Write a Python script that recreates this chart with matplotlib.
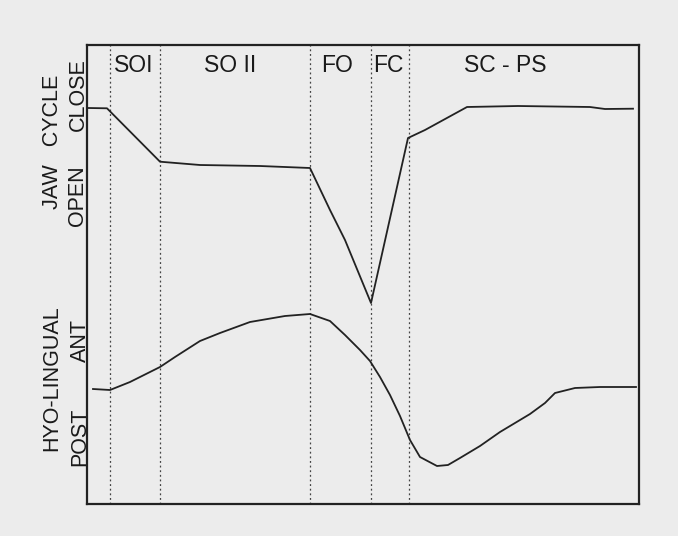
import matplotlib
matplotlib.use("Agg")
import matplotlib.pyplot as plt

# Time axis (arbitrary units) and traces
jaw_t = [1, 20, 73, 113, 173, 223, 243, 258, 284, 321, 338, 380, 431, 503, 518, 546]
jaw_y = [396, 395.7, 342.3, 339, 338, 336, 294, 264, 201, 366, 374, 397, 398, 397, 395, 395.3]

hyo_t = [6, 23, 43, 73, 88, 113, 133, 163, 198, 223, 243, 258, 273, 283, 293, 303, 313, 323,
         333, 350, 361, 373, 393, 413, 428, 443, 458, 468, 488, 513, 549]
hyo_y = [115, 114, 122, 137, 147, 163, 171, 182, 188, 190, 183, 169, 154, 143, 127, 109, 88, 64,
         47, 38, 39, 46, 58, 72, 81, 90, 101, 111, 116, 117, 117]

phase_bounds = [22.5, 73, 223, 284, 321.5]
phase_labels = ["SOI", "SO II", "FO", "FC", "SC - PS"]
phase_label_t = [47, 143, 250, 301, 418]

FONT = ["Liberation Sans", "DejaVu Sans"]
bg = "#ececec"

fig = plt.figure(figsize=(6.78, 5.36), dpi=100, facecolor=bg)
ax = fig.add_axes([87/678, 32/536, 552/678, 459/536])
ax.set_facecolor(bg)

for b in phase_bounds:
    ax.axvline(b, color="#444444", lw=0.9, ls=(0, (1.5, 2.2)), zorder=1)

ax.plot(jaw_t, jaw_y, color="#222222", lw=1.3, zorder=3)
ax.plot(hyo_t, hyo_y, color="#222222", lw=1.3, zorder=3)

for lab, t in zip(phase_labels, phase_label_t):
    ax.text(t, 439, lab, ha="center", va="center", fontsize=16.5,
            family=FONT, color="#1a1a1a")

ax.set_xlim(0, 552)
ax.set_ylim(0, 459)
ax.set_xticks([])
ax.set_yticks([])
for s in ax.spines.values():
    s.set_linewidth(1.6)
    s.set_color("#222222")

def side(x, y, s):
    fig.text(x/678, 1 - y/536, s, rotation=90, ha="center", va="center",
             fontsize=15.5, family=FONT, color="#1a1a1a")

side(52, 142, "JAW   CYCLE")
side(78, 95, "CLOSE")
side(78, 196, "OPEN")
side(52, 378, "HYO-LINGUAL")
side(80, 341, "ANT")
side(80, 437, "POST")

fig.savefig("out.png", dpi=100, facecolor=bg)
